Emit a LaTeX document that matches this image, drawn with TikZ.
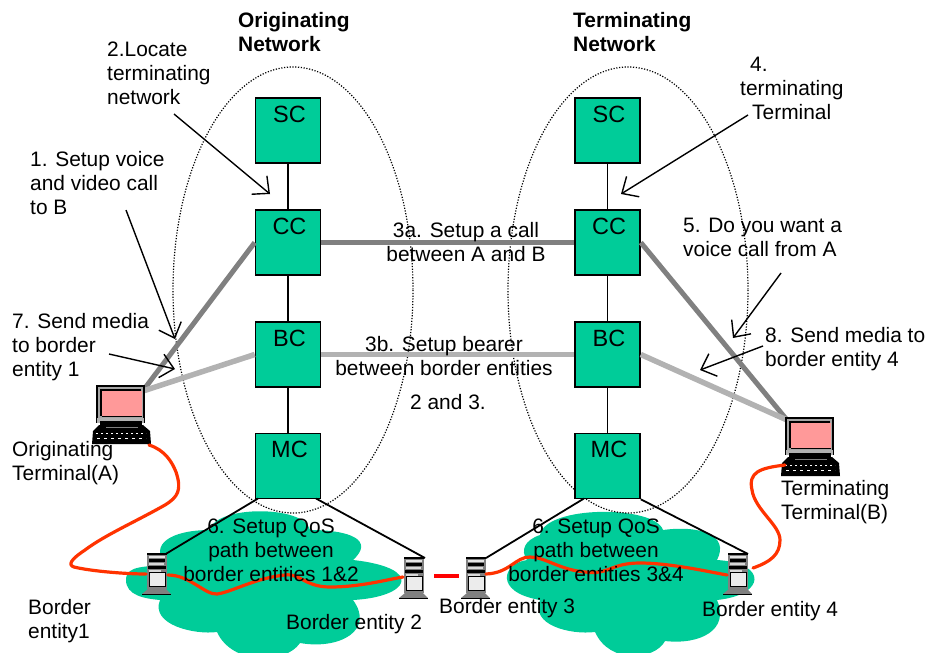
\documentclass[tikz,border=0pt]{standalone}
\usepackage{fontspec}
\setmainfont{Liberation Sans}
\usetikzlibrary{arrows.meta}
\definecolor{boxgreen}{HTML}{00CC99}
\definecolor{callgrey}{HTML}{808080}
\definecolor{bearergrey}{HTML}{B2B2B2}
\definecolor{redline}{HTML}{FF3300}
\definecolor{pinkscreen}{HTML}{FF9999}
\newcommand{\fl}{\rule{0pt}{15pt}}
\newcommand{\boxlabel}[1]{\hspace*{3pt}\raisebox{8.5pt}[0pt][0pt]{#1}}
\tikzset{
  txt/.style={anchor=north west,inner sep=0pt,align=left,font=\fontsize{20.9}{24}\selectfont},
  ctxt/.style={txt,anchor=north,align=center},
  boldtxt/.style={txt,font=\fontsize{20.9}{24}\selectfont\bfseries},
  netbox/.style={draw=black,line width=1.6pt,fill=boxgreen,minimum width=65pt,minimum height=65pt,inner sep=0pt,font=\fontsize{23.5}{24}\selectfont},
  link/.style={line width=1.8pt,black},
  callline/.style={line width=5pt,callgrey},
  bearerline/.style={line width=5.5pt,bearergrey},
  media/.style={line width=3.2pt,redline,line cap=round,line join=round},
  callout/.style={line width=1.4pt,black,-{Straight Barb[length=13pt,width=24pt,line width=1.4pt]}},
  netring/.style={line width=1.2pt,black,dash pattern=on 1.2pt off 1.6pt},
  cloudshape/.style={fill=boxgreen,draw=none},
  laptop/.pic={
    \fill[black] (0,0) rectangle (49,38);
    \fill[gray!70] (2,2) rectangle (47,33);
    \fill[black] (4,4) rectangle (45,31);
    \fill[pinkscreen] (6,6) rectangle (46,31);
    \fill[black] (6,31) rectangle (46,32);
    \fill[gray!60] (1,33) rectangle (48,38);
    \fill[black] (4,36) rectangle (46,41);
    \fill[black] (3,40) -- (47,40) -- (54,46) -- (55,59) -- (-4,59) -- (-3,46) -- cycle;
    \draw[white,line width=.5pt,dash pattern=on 2pt off 3pt] (0,48) -- (50,48);
    \draw[white,line width=.5pt,dash pattern=on 3pt off 4pt] (1,53) -- (50,53);
    \draw[gray,line width=.5pt] (10,42) -- (42,42);
  },
  servericon/.pic={
    \fill[gray] (0,0) rectangle (20,36);
    \fill[black] (0,0) rectangle (20,2);
    \fill[gray!20] (2,3) rectangle (18,5);
    \fill[black] (2,6) rectangle (18,9);
    \fill[gray!30] (2,10) rectangle (17,12);
    \fill[black] (1,13) rectangle (19,16);
    \fill[gray!30] (2,17) rectangle (14,18.5);
    \fill[gray!15] (2,19) rectangle (18,33);
    \draw[black,line width=.7pt] (2,19) rectangle (18,33);
    \fill[gray] (1,36) -- (19,36) -- (24,41) -- (-5,41) -- cycle;
    \fill[black] (-5,40.5) rectangle (24,41.5);
  }
}
\begin{document}
\begin{tikzpicture}[x=1pt,y=-1pt]
\useasboundingbox (0,0) rectangle (929,653);
% clouds
\fill[cloudshape] (165,563) to[out=200,in=90] (126,580) to[out=270,in=175] (160,600)
  .. controls (150,625) and (195,635) .. (217,632)
  .. controls (232,665) and (285,665) .. (300,643)
  .. controls (340,650) and (375,630) .. (353,600)
  .. controls (410,597) and (425,568) .. (353,560)
  .. controls (375,540) and (350,530) .. (310,530)
  .. controls (305,505) and (215,505) .. (210,530)
  .. controls (170,530) and (150,545) .. (165,563) -- cycle;
\fill[cloudshape] (527,560) .. controls (503,563) and (493,592) .. (540,600)
  .. controls (530,625) and (570,635) .. (595,632)
  .. controls (610,665) and (655,660) .. (665,641)
  .. controls (700,645) and (730,630) .. (717,600)
  .. controls (766,595) and (768,563) .. (717,560)
  .. controls (730,535) and (700,525) .. (663,530)
  .. controls (655,505) and (545,505) .. (540,535)
  .. controls (525,540) and (520,550) .. (527,560) -- cycle;
% network ellipses
\draw[netring] (293,290) ellipse [x radius=120,y radius=223];
\draw[netring] (628,290) ellipse [x radius=120,y radius=223];
% boxes
\node[netbox] (sc1) at (288,130.5) {\boxlabel{SC}};
\node[netbox] (cc1) at (288,242.5) {\boxlabel{CC}};
\node[netbox] (bc1) at (288,354.5) {\boxlabel{BC}};
\node[netbox] (mc1) at (288,466) {\boxlabel{MC}};
\node[netbox] (sc2) at (607.5,130.5) {\boxlabel{SC}};
\node[netbox] (cc2) at (607.5,242.5) {\boxlabel{CC}};
\node[netbox] (bc2) at (607.5,354.5) {\boxlabel{BC}};
\node[netbox] (mc2) at (607.5,466) {\boxlabel{MC}};
% anchor coordinates
\coordinate (lapA) at (145,388);
\coordinate (lapAb) at (143,391);
\coordinate (lapB) at (787,420);
\coordinate (mcA) at (258,498.5);
\coordinate (mcB) at (316,498.5);
\coordinate (mcC) at (584,498.5);
\coordinate (srvA) at (164,555);
\coordinate (srvB) at (425,558);
\coordinate (srvC) at (486,558);
\coordinate (srvD) at (748,554);
\draw[link] (sc1) -- (cc1);
\draw[link] (cc1) -- (bc1);
\draw[link] (bc1) -- (mc1);
\draw[link] (sc2) -- (cc2);
\draw[link] (cc2) -- (bc2);
\draw[link] (bc2) -- (mc2);
\draw[link] (mcA) -- (srvA);
\draw[link] (mcB) -- (srvB);
\draw[link] (mcC) -- (srvC);
\draw[link] (mc2.south east) -- (srvD);
% grey call and bearer lines
\draw[callline] (cc1.west) -- (lapA);
\draw[callline] (cc1.east) -- (cc2.west);
\draw[callline] (cc2.east) -- (lapB);
\draw[bearerline] (bc1.west) -- (lapAb);
\draw[bearerline] (bc1.east) -- (bc2.west);
\draw[bearerline] (bc2.east) -- (lapB);
% devices
\pic at (96,385) {laptop};
\pic at (785,417) {laptop};
\pic at (147,553) {servericon};
\pic at (404,557) {servericon};
\pic at (466,557) {servericon};
\pic at (728,553) {servericon};
% red media paths
\draw[media] (149,445) .. controls (165,450) and (172,462) .. (176,472)
  .. controls (182,490) and (178,497) .. (165,505)
  .. controls (135,522) and (105,535) .. (85,550)
  .. controls (70,560) and (68,565) .. (74,567)
  .. controls (90,571) and (125,574) .. (146,574);
\draw[media] (168,575) .. controls (190,575) and (205,595) .. (217,594)
  .. controls (232,592) and (255,578) .. (285,575)
  .. controls (300,573) and (305,587) .. (330,587)
  .. controls (360,587) and (385,580) .. (403,577);
\draw[media,line cap=butt,red] (434,576) -- (459,576);
\draw[media] (486,574) .. controls (510,573) and (515,557) .. (530,557)
  .. controls (545,557) and (560,570) .. (585,572)
  .. controls (610,575) and (610,563) .. (640,563)
  .. controls (670,563) and (710,572) .. (727,575);
\draw[media] (753,568) .. controls (770,562) and (780,555) .. (780,540)
  .. controls (780,525) and (755,510) .. (752,490)
  .. controls (748,472) and (760,468) .. (785,465);
% callouts
\coordinate (a1s) at (126,210); \coordinate (a1e) at (175,339);
\coordinate (a2s) at (174,114); \coordinate (a2e) at (270,194);
\coordinate (a7s) at (109,354); \coordinate (a7e) at (175,369);
\coordinate (a4s) at (748,115); \coordinate (a4e) at (621,194);
\coordinate (a5s) at (781,273); \coordinate (a5e) at (733,338);
\coordinate (a8s) at (763,346); \coordinate (a8e) at (700,370);
\draw[callout] (a1s) -- (a1e);
\draw[callout] (a2s) -- (a2e);
\draw[callout] (a7s) -- (a7e);
\draw[callout] (a4s) -- (a4e);
\draw[callout] (a5s) -- (a5e);
\draw[callout] (a8s) -- (a8e);
% texts (y = first baseline - 15)
\node[boldtxt] (t1) at (238,12) {\fl Originating\\Network};
\node[boldtxt] (t2) at (573,12) {\fl Terminating\\Network};
\node[txt] (t3) at (107,41) {\fl 2.Locate\\terminating\\network};
\node[txt] (t4) at (30,151) {\fl 1. Setup voice\\and video call\\to B};
\node[txt] (t5) at (12,313) {\fl 7. Send media\\to border\\entity 1};
\node[txt] (t6) at (12,441) {\fl Originating\\Terminal(A)};
\node[txt] (t7) at (28,599) {\fl Border\\entity1};
\node[txt] (t8) at (286,614) {\fl Border entity 2};
\node[ctxt] (t9) at (271,518) {\fl 6. Setup QoS\\path between\\border entities 1\&2};
\node[ctxt] (t10) at (466,222) {\fl 3a. Setup a call\\between A and B};
\node[ctxt] (t11) at (444,336) {\fl 3b. Setup bearer\\between border entities};
\node[txt] (t12) at (410,394) {\fl 2 and 3.};
\node[txt] (t13) at (740,56) {\fl \hspace*{10pt}4.\\terminating\\\hspace*{12pt}Terminal};
\node[txt] (t14) at (683,217) {\fl 5. Do you want a\\voice call from A};
\node[txt] (t15) at (765,327) {\fl 8. Send media to\\border entity 4};
\node[txt] (t16) at (781,480) {\fl Terminating\\Terminal(B)};
\node[txt] (t17) at (439,598) {\fl Border entity 3};
\node[txt] (t18) at (702,601) {\fl Border entity 4};
\node[ctxt] (t19) at (596,518) {\fl 6. Setup QoS\\path between\\border entities 3\&4};
\end{tikzpicture}
\end{document}
